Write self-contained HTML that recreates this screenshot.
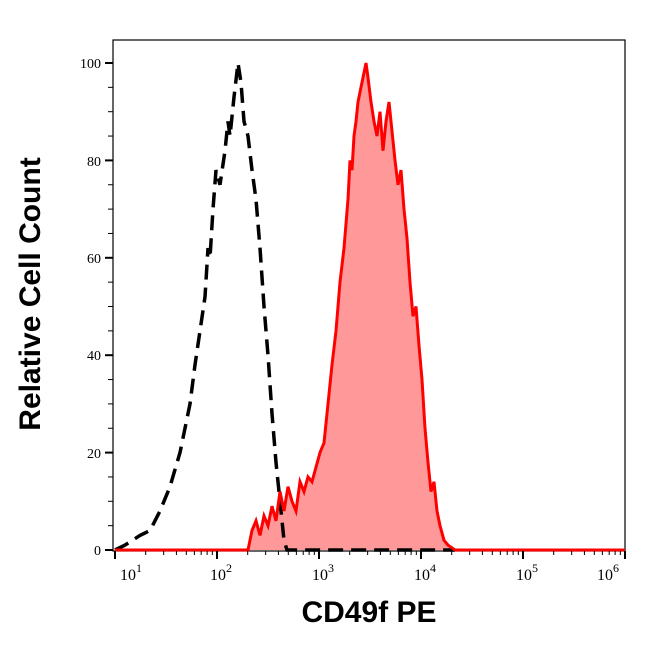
<!DOCTYPE html><html><head><style>body{margin:0;background:#fff}</style></head><body>
<svg width="646" height="641" viewBox="0 0 646 641" xmlns="http://www.w3.org/2000/svg">
<rect x="113" y="40" width="512" height="511" fill="none" stroke="#000" stroke-width="1.2"/>
<g id="curves"></g>
<g font-family="Liberation Serif, serif" font-size="14" fill="#000" text-anchor="end">
<text x="101" y="68">100</text><text x="101" y="166">80</text><text x="101" y="263">60</text><text x="101" y="360">40</text><text x="101" y="458">20</text><text x="101" y="555">0</text>
</g>
<g id="ticks" stroke="#000"></g>
<g font-family="Liberation Serif, serif" font-size="16" fill="#000">
<text x="120" y="580">10<tspan dy="-8" font-size="12">1</tspan></text>
<text x="210" y="580">10<tspan dy="-8" font-size="12">2</tspan></text>
<text x="312" y="580">10<tspan dy="-8" font-size="12">3</tspan></text>
<text x="414" y="580">10<tspan dy="-8" font-size="12">4</tspan></text>
<text x="516" y="580">10<tspan dy="-8" font-size="12">5</tspan></text>
<text x="597" y="580">10<tspan dy="-8" font-size="12">6</tspan></text>
</g>
<text x="369" y="622" font-family="Liberation Sans, sans-serif" font-weight="bold" font-size="30" text-anchor="middle">CD49f PE</text>
<text transform="translate(40,294) rotate(-90)" font-family="Liberation Sans, sans-serif" font-weight="bold" font-size="30" text-anchor="middle">Relative Cell Count</text>
</svg>
<script>
const Y=v=>550-4.87*v;
const blk=[[115,0],[125,1],[140,3],[150,4],[160,8],[170,13],[180,20],[186,26],[190,30],[195,38],[200,45],[205,52],[208,62],[210,60],[213,70],[216,78],[220,75],[225,82],[228,88],[230,85],[234,93],[238,100],[241,96],[244,88],[248,85],[252,78],[256,72],[260,62],[264,50],[268,40],[272,28],[276,18],[280,10],[284,2],[287,0],[455,0]];
const red=[[248,0],[252,4],[256,6],[260,3],[264,7],[268,5],[272,9],[276,6],[280,12],[284,8],[288,13],[292,10],[296,8],[300,14],[304,12],[308,15],[312,14],[316,17],[320,20],[324,22],[328,30],[332,38],[336,45],[340,55],[344,62],[348,72],[350,80],[352,78],[354,85],[356,88],[358,92],[361,95],[364,98],[366,100],[368,97],[371,92],[374,88],[377,85],[380,90],[383,82],[386,88],[389,92],[392,86],[395,80],[398,75],[401,78],[404,70],[407,64],[410,55],[413,48],[416,50],[419,42],[422,35],[425,25],[428,18],[431,12],[434,14],[437,8],[440,5],[444,2],[448,1],[455,0]];
const pts=a=>a.map(p=>p[0]+','+Y(p[1]).toFixed(1)).join(' ');
let s='';
s+=`<polygon points="248,550 ${pts(red)} 455,550" fill="#ff9999"/>`;
s+=`<polyline points="${pts(blk)}" fill="none" stroke="#000" stroke-width="3.5" stroke-dasharray="15,8"/>`;
s+=`<polyline points="115,550 248,550 ${pts(red)} 625,550" fill="none" stroke="#f00" stroke-width="3"/>`;
document.getElementById('curves').innerHTML=s;
let t='';
for(let v=0;v<=100;v+=5){const y=Y(v);t+=`<line x1="${v%20?108:105}" x2="113" y1="${y}" y2="${y}" stroke-width="${v%20?1:2}"/>`;}
for(let d=1;d<=6;d++){const x=115+102*(d-1);t+=`<line x1="${x}" x2="${x}" y1="551" y2="559" stroke-width="2"/>`;
 if(d<6)for(let k=2;k<10;k++){const xx=x+102*Math.log10(k);t+=`<line x1="${xx}" x2="${xx}" y1="551" y2="555" stroke-width="1"/>`;}}
document.getElementById('ticks').innerHTML=t;
</script>
</body></html>
